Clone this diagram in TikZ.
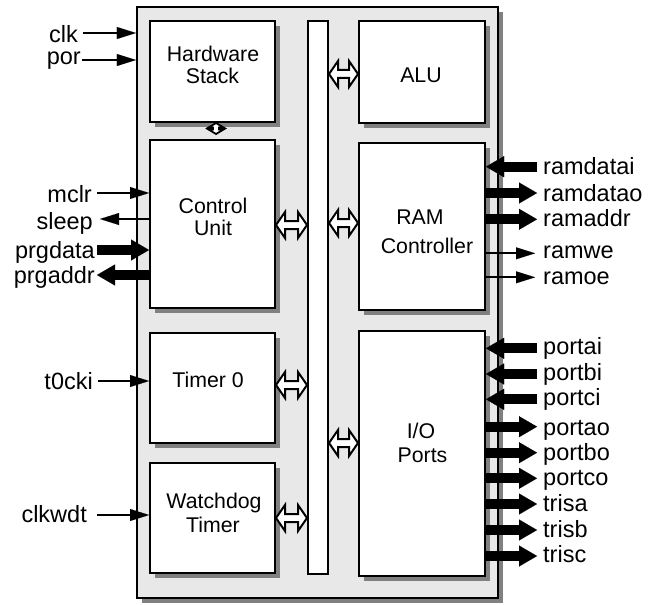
\documentclass[tikz,border=0pt]{standalone}
\usepackage{fontspec}
\setmainfont{Liberation Sans}
\usetikzlibrary{arrows.meta,shadows,calc}
\newcommand\hollowh[3]{%
  \path[hollow] let \p1=(#1), \p2=(#2) in
  (\x1,-#3pt) -- (\x1+9pt,-#3pt+13pt) -- (\x1+9pt,-#3pt+4pt) -- (\x2-9pt,-#3pt+4pt)
  -- (\x2-9pt,-#3pt+13pt) -- (\x2,-#3pt) -- (\x2-9pt,-#3pt-13pt) -- (\x2-9pt,-#3pt-4pt)
  -- (\x1+9pt,-#3pt-4pt) -- (\x1+9pt,-#3pt-13pt) -- cycle;}
\newcommand\hollowv[3]{%
  \path[hollow, line width=1.8pt] let \p1=(#1), \p2=(#2) in
  (#3pt,\y1) -- (#3pt+7.5pt,\y1-4.5pt) -- (#3pt+3pt,\y1-4.5pt) -- (#3pt+3pt,\y2+4.5pt)
  -- (#3pt+7.5pt,\y2+4.5pt) -- (#3pt,\y2) -- (#3pt-7.5pt,\y2+4.5pt) -- (#3pt-3pt,\y2+4.5pt)
  -- (#3pt-3pt,\y1-4.5pt) -- (#3pt-7.5pt,\y1-4.5pt) -- cycle;}
\begin{document}
\begin{tikzpicture}[x=1pt,y=-1pt,
  blk/.style={draw, line width=2pt, fill=white, inner sep=0pt,
    drop shadow={shadow xshift=5pt, shadow yshift=-5pt, fill=black!50, opacity=1}},
  btxt/.style={inner sep=0pt, anchor=base, font=\fontsize{21.3}{24}\selectfont},
  lbl/.style={inner sep=0pt, font=\fontsize{23.5}{26}\selectfont},
  lbll/.style={lbl, anchor=base east},
  lblr/.style={lbl, anchor=base west},
  thinarr/.style={line width=1.8pt, -{Triangle[length=19pt,width=12pt,line width=0.01pt]}},
  thickarr/.style={line width=10pt, -{Triangle[length=18pt,width=21pt,line width=0.01pt]}},
  hollow/.style={draw, fill=white, line width=2pt, line join=miter},
]
\useasboundingbox (0,0) rectangle (660,604);

% outer chip
\node[blk, line width=2.2pt, fill=black!9, minimum width=361pt, minimum height=591pt] (outer) at (317.5,302.5) {};

% blocks
\node[blk, minimum width=125pt, minimum height=101pt] (hs)  at (212.5,71.5) {};
\node[blk, minimum width=125pt, minimum height=168pt] (cu)  at (212.5,224) {};
\node[blk, minimum width=125pt, minimum height=110pt] (t0)  at (212.5,388) {};
\node[blk, minimum width=125pt, minimum height=110pt] (wdt) at (212.5,518) {};
\node[blk, minimum width=126pt, minimum height=102pt] (alu) at (422,72) {};
\node[blk, minimum width=126pt, minimum height=167pt] (ram) at (422,226.5) {};
\node[blk, minimum width=126pt, minimum height=245pt] (io)  at (422,453.5) {};
\node[draw, line width=2pt, fill=white, inner sep=0pt, minimum width=20pt, minimum height=553pt] (bus) at (318,297.5) {};

% block texts
\node[btxt] (hs1) at (213,62) {Hardware};
\node[btxt] (hs2) at (212.5,83.5) {Stack};
\node[btxt] (cu1) at (213,213.5) {Control};
\node[btxt] (cu2) at (213,235.5) {Unit};
\node[btxt] (t01) at (208,387.3) {Timer 0};
\node[btxt] (wd1) at (214,508.3) {Watchdog};
\node[btxt] (wd2) at (213,532.3) {Timer};
\node[btxt] (al1) at (421,82.3) {ALU};
\node[btxt] (ra1) at (420,224.3) {RAM};
\node[btxt] (ra2) at (427,253.3) {Controller};
\node[btxt] (io1) at (421,438.3) {I/O};
\node[btxt] (io2) at (422.5,462.3) {Ports};

% internal hollow connectors
\coordinate (stk) at (216,134);
\hollowv{hs.south}{stk}{216}
\hollowh{cu.east}{bus.west}{225}
\hollowh{t0.east}{bus.west}{385}
\hollowh{wdt.east}{bus.west}{518}
\hollowh{bus.east}{alu.west}{74}
\hollowh{bus.east}{ram.west}{223}
\hollowh{bus.east}{io.west}{443}

% left signals
\node[lbll] (lclk) at (78,43) {clk};
\node[lbll] (lpor) at (81,64.5) {por};
\node[lbll] (lmclr) at (92,202.7) {mclr};
\node[lbll] (lsleep) at (93,229) {sleep};
\node[lbll] (lprgdata) at (95,258) {prgdata};
\node[lbll] (lprgaddr) at (95,283) {prgaddr};
\node[lbll] (lt0cki) at (93,389) {t0cki};
\node[lbll] (lclkwdt) at (87,522.7) {clkwdt};

\coordinate (pclk) at (83.3,33);
\coordinate (ppor) at (82,60);
\coordinate (pmclr) at (97,193);
\coordinate (psleep) at (100,219);
\coordinate (pprgdata) at (97,250);
\coordinate (pprgaddr) at (97,275);
\coordinate (pt0cki) at (98,381);
\coordinate (pclkwdt) at (97,515);

\draw[thinarr] (pclk) -- (outer.west |- pclk);
\draw[thinarr] (ppor) -- (outer.west |- ppor);
\draw[thinarr] (pmclr) -- (cu.west |- pmclr);
\draw[thinarr] (cu.west |- psleep) -- (psleep);
\draw[thickarr] (pprgdata) -- (cu.west |- pprgdata);
\draw[thickarr] (cu.west |- pprgaddr) -- (pprgaddr);
\draw[thinarr] (pt0cki) -- (t0.west |- pt0cki);
\draw[thinarr] (pclkwdt) -- (wdt.west |- pclkwdt);

% right signals
\node[lblr] (lramdatai) at (543,175) {ramdatai};
\node[lblr] (lramdatao) at (543,201) {ramdatao};
\node[lblr] (lramaddr) at (543,226.7) {ramaddr};
\node[lblr] (lramwe) at (543,258.3) {ramwe};
\node[lblr] (lramoe) at (543,284) {ramoe};
\node[lblr] (lportai) at (543,354) {portai};
\node[lblr] (lportbi) at (543,380) {portbi};
\node[lblr] (lportci) at (543,405) {portci};
\node[lblr] (lportao) at (543,435) {portao};
\node[lblr] (lportbo) at (543,460) {portbo};
\node[lblr] (lportco) at (543,485) {portco};
\node[lblr] (ltrisa) at (543,511) {trisa};
\node[lblr] (ltrisb) at (543,537.3) {trisb};
\node[lblr] (ltrisc) at (543,562.7) {trisc};

\coordinate (pramdatai) at (537,166.7);
\coordinate (pramdatao) at (537,193);
\coordinate (pramaddr) at (537,219.3);
\coordinate (pramwe) at (535,253.3);
\coordinate (pramoe) at (535,277.3);
\coordinate (pportai) at (537,348.3);
\coordinate (pportbi) at (537,374);
\coordinate (pportci) at (537,399.3);
\coordinate (pportao) at (537,426.7);
\coordinate (pportbo) at (537,452.7);
\coordinate (pportco) at (537,478.3);
\coordinate (ptrisa) at (537,504);
\coordinate (ptrisb) at (537,530);
\coordinate (ptrisc) at (537,556);

\draw[thickarr] (pramdatai) -- (ram.east |- pramdatai);
\draw[thickarr] (ram.east |- pramdatao) -- (pramdatao);
\draw[thickarr] (ram.east |- pramaddr) -- (pramaddr);
\draw[thinarr] (ram.east |- pramwe) -- (pramwe);
\draw[thinarr] (ram.east |- pramoe) -- (pramoe);
\draw[thickarr] (pportai) -- (io.east |- pportai);
\draw[thickarr] (pportbi) -- (io.east |- pportbi);
\draw[thickarr] (pportci) -- (io.east |- pportci);
\draw[thickarr] (io.east |- pportao) -- (pportao);
\draw[thickarr] (io.east |- pportbo) -- (pportbo);
\draw[thickarr] (io.east |- pportco) -- (pportco);
\draw[thickarr] (io.east |- ptrisa) -- (ptrisa);
\draw[thickarr] (io.east |- ptrisb) -- (ptrisb);
\draw[thickarr] (io.east |- ptrisc) -- (ptrisc);
\end{tikzpicture}
\end{document}
